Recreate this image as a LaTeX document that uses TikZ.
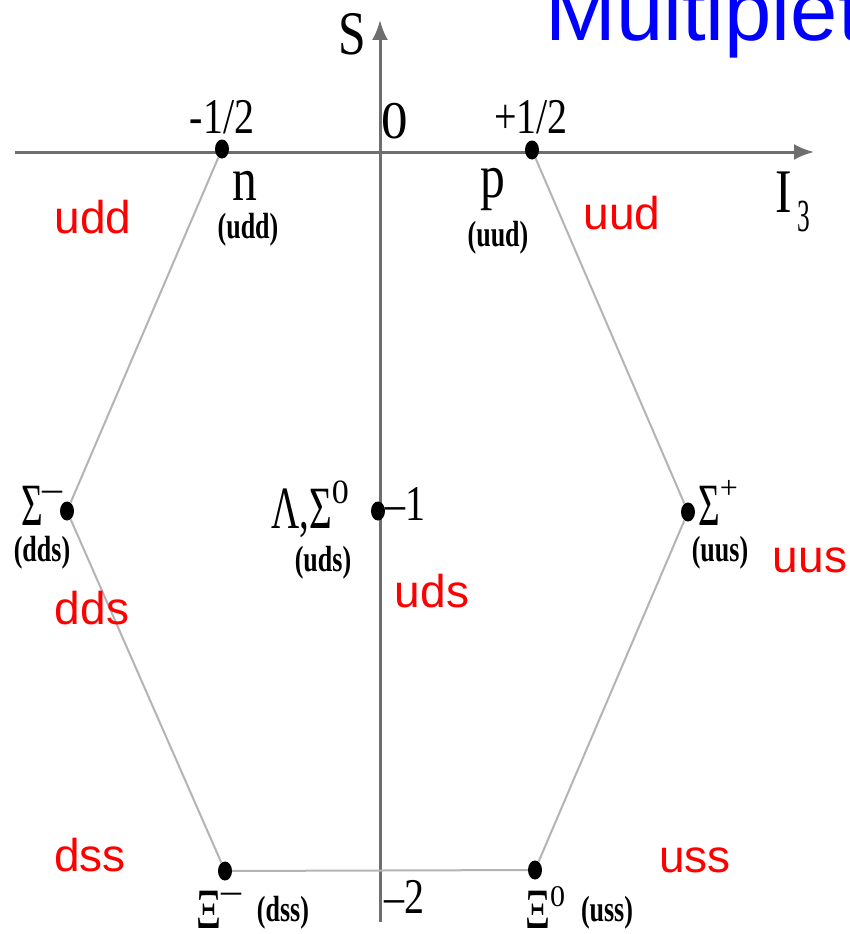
\documentclass[tikz,border=0pt]{standalone}
\usepackage{fontspec}
\setmainfont{Liberation Serif}
\newfontfamily\sansfam{Liberation Sans}
\usetikzlibrary{arrows.meta,shapes.geometric}
\definecolor{axisgray}{HTML}{6E6E6E}
\definecolor{edgegray}{HTML}{B4B4B4}
\definecolor{titleblue}{HTML}{0000FF}
\definecolor{quarkred}{HTML}{FF0000}
\newcommand{\supmark}[3]{\raisebox{#1}{\fontsize{#2}{#2}\selectfont #3}}
\begin{document}
\begin{tikzpicture}[x=1pt,y=-1pt,
  axisline/.style={draw=axisgray,line width=3pt},
  edgeline/.style={draw=edgegray,line width=2pt},
  dotnode/.style={ellipse,fill=black,inner sep=0pt,minimum width=14pt,minimum height=19pt},
  biglab/.style={font=\fontsize{62}{62}\selectfont,inner sep=0pt,anchor=base},
  numlab/.style={font=\fontsize{50}{50}\selectfont,inner sep=0pt,anchor=base},
  greeklab/.style={font=\fontsize{60}{60}\selectfont,inner sep=0pt,anchor=base west},
  quarklab/.style={font=\fontsize{26}{26}\selectfont\bfseries,inner sep=0pt,anchor=center},
  redlab/.style={font=\sansfam\fontsize{46}{46}\selectfont,text=quarkred,inner sep=0pt,anchor=base},
]
\path[fill=white,use as bounding box] (0,0) rectangle (850,934);

% title
\node[font=\sansfam\fontsize{85}{85}\selectfont,text=titleblue,inner sep=0pt,anchor=base west] (title) at (545,41) {Multiplet};

% axes
\coordinate (xl) at (15,152);
\coordinate (xr) at (814,152);
\coordinate (yb) at (380,922);
\coordinate (yt) at (380,20);
\draw[axisline,-{Latex[length=20pt,width=16pt]}] (xl) -- (xr);
\draw[axisline,-{Latex[length=20pt,width=16pt]}] (yb) -- (yt);

% dots
\node[dotnode] (n) at (222,149) {};
\node[dotnode] (p) at (532,150) {};
\node[dotnode] (sm) at (67,511) {};
\node[dotnode] (lam) at (378,511) {};
\node[dotnode] (sp) at (688,512) {};
\node[dotnode] (xm) at (225,871) {};
\node[dotnode] (x0) at (535,870) {};

% hexagon
\draw[edgeline] (n) -- (sm);
\draw[edgeline] (sm) -- (xm);
\draw[edgeline] (xm) -- (x0);
\draw[edgeline] (x0) -- (sp);
\draw[edgeline] (sp) -- (p);

% axis labels
\node[biglab] (Slab) at (352,55) {\scalebox{0.8}[1]{S}};
\node[biglab] (Ilab) at (784,212) {\scalebox{0.8}[1]{I}};
\node[font=\fontsize{46}{46}\selectfont,inner sep=0pt,anchor=base] (Isub) at (804,231) {\scalebox{0.55}[1]{3}};
\node[numlab] (mhalf) at (222,133) {\scalebox{0.8}[1]{-1/2}};
\node[numlab,font=\fontsize{53}{53}\selectfont] (zero) at (395,138) {0};
\node[numlab] (phalf) at (531,133) {\scalebox{0.8}[1]{+1/2}};
\node[numlab] (mone) at (405,520) {\scalebox{0.8}[1]{–1}};
\node[numlab] (mtwo) at (404,913) {\scalebox{0.8}[1]{–2}};

% particle names
\node[biglab] (nlab) at (245,200) {\scalebox{0.8}[1]{n}};
\node[biglab] (plab) at (493,197) {\scalebox{0.8}[1]{p}};
\node[greeklab] (smlab) at (21,525) {\scalebox{0.62}[1]{Σ}\supmark{24pt}{40}{–}};
\node[greeklab] (lamlab) at (271,528) {\scalebox{0.65}[1]{Λ,Σ}\supmark{25pt}{34}{0}};
\node[greeklab] (splab) at (698,525) {\scalebox{0.62}[1]{Σ}\supmark{27pt}{32}{+}};
\node[greeklab,font=\fontsize{57}{57}\selectfont] (xmlab) at (196,928) {\scalebox{0.68}[1]{Ξ}\supmark{25pt}{40}{–}};
\node[greeklab,font=\fontsize{57}{57}\selectfont] (x0lab) at (525,928) {\scalebox{0.68}[1]{Ξ}\supmark{22pt}{30}{0}};

% quark content (small)
\node[quarklab] (q1) at (248,230) {\scalebox{1}[1.4]{(udd)}};
\node[quarklab] (q2) at (498,238) {\scalebox{1}[1.4]{(uud)}};
\node[quarklab] (q3) at (42,553) {\scalebox{1}[1.4]{(dds)}};
\node[quarklab] (q4) at (323,563) {\scalebox{1}[1.4]{(uds)}};
\node[quarklab] (q5) at (720,553) {\scalebox{1}[1.4]{(uus)}};
\node[quarklab] (q6) at (283,913) {\scalebox{1}[1.4]{(dss)}};
\node[quarklab] (q7) at (607,913) {\scalebox{1}[1.4]{(uss)}};

% red quark labels
\node[redlab] (r1) at (93,233) {udd};
\node[redlab] (r2) at (622,229) {uud};
\node[redlab] (r3) at (810,572) {uus};
\node[redlab] (r4) at (92,624) {dds};
\node[redlab] (r5) at (432,607) {uds};
\node[redlab] (r6) at (90,871) {dss};
\node[redlab] (r7) at (695,872) {uss};
\end{tikzpicture}
\end{document}
